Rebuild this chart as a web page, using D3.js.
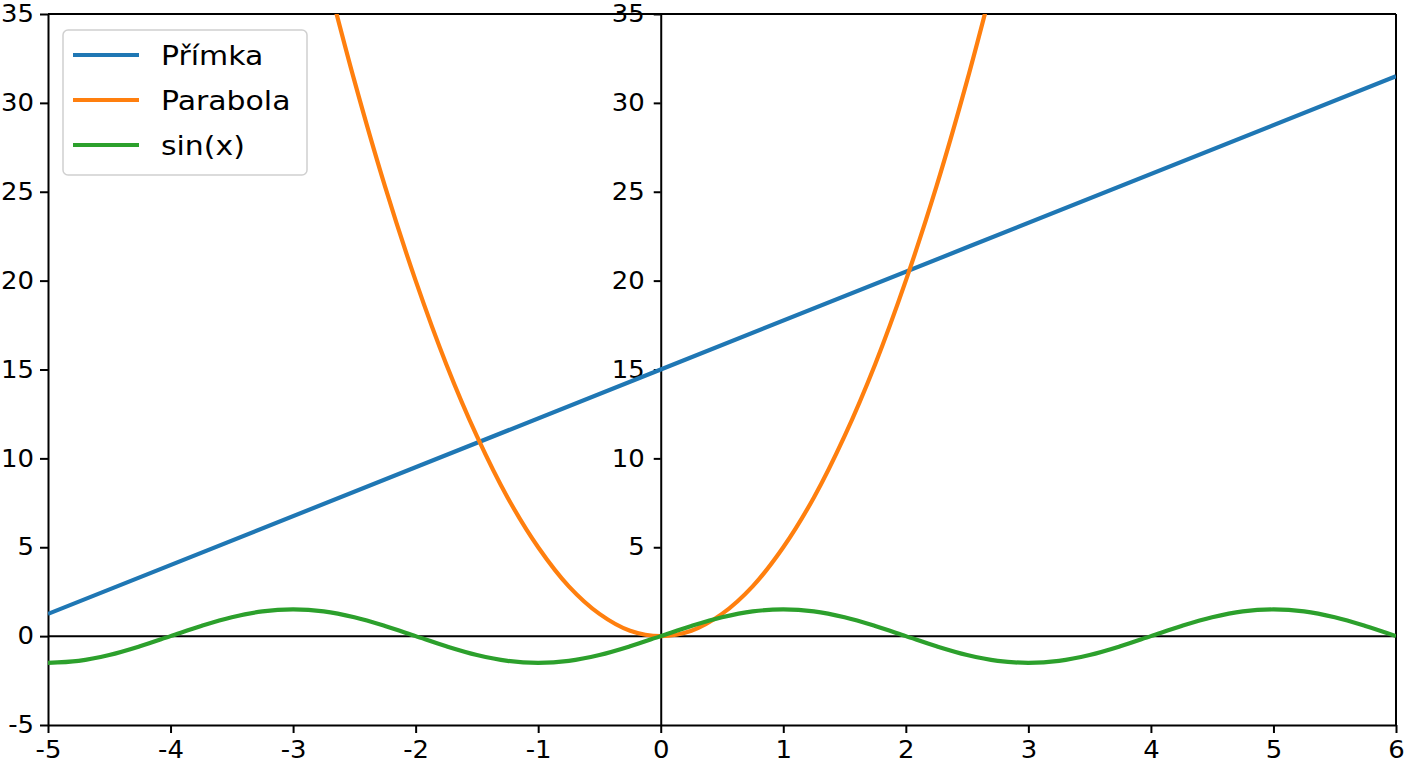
<!DOCTYPE html>
<html lang="cs">
<head>
    <meta charset="UTF-8">
    <title>Přímka, parabola, sin(x)</title>
    <script src="https://d3js.org/d3.v7.min.js"></script>
    <style>
        body{
            margin: 0;
            background: white;
        }
        svg{
            display: block;
            font-family: "DejaVu Sans", sans-serif;
        }
        .axis path, .axis line{
            stroke: black;
            stroke-width: 2;
        }
    </style>
</head>
<body>
<svg></svg>
<script>
    const width = 1408;
    const height = 768;

    // data
    const xTicks = [-5, -4, -3, -2, -1, 0, 1, 2, 3, 4, 5, 6];
    const yTicks = [-5, 0, 5, 10, 15, 20, 25, 30, 35];
    const yTicksMid = [5, 10, 15, 20, 25, 30, 35];

    const primkaX = [-5, 0, 6];
    const primkaY = [1.25, 15, 31.5];

    const parabolaX = [-2.75, -2.5, -2.25, -2, -1.75, -1.5, -1.25, -1, -0.75, -0.5, -0.25, 0,
        0.25, 0.5, 0.75, 1, 1.25, 1.5, 1.75, 2, 2.25, 2.5, 2.75];
    const parabolaY = [37.8, 31.25, 25.3, 20, 15.3, 11.25, 7.8, 5, 2.8, 1.25, 0.3, 0,
        0.3, 1.25, 2.8, 5, 7.8, 11.25, 15.3, 20, 25.3, 31.25, 37.8];

    const sinX = [-5, -4.75, -4.5, -4.25, -4, -3.75, -3.5, -3.25, -3, -2.75, -2.5, -2.25,
        -2, -1.75, -1.5, -1.25, -1, -0.75, -0.5, -0.25, 0, 0.25, 0.5, 0.75,
        1, 1.25, 1.5, 1.75, 2, 2.25, 2.5, 2.75, 3, 3.25, 3.5, 3.75,
        4, 4.25, 4.5, 4.75, 5, 5.25, 5.5, 5.75, 6];
    const sinY = [-1.5, -1.39, -1.06, -0.57, 0, 0.57, 1.06, 1.39, 1.5, 1.39, 1.06, 0.57,
        0, -0.57, -1.06, -1.39, -1.5, -1.39, -1.06, -0.57, 0, 0.57, 1.06, 1.39,
        1.5, 1.39, 1.06, 0.57, 0, -0.57, -1.06, -1.39, -1.5, -1.39, -1.06, -0.57,
        0, 0.57, 1.06, 1.39, 1.5, 1.39, 1.06, 0.57, 0];

    const seriesNames = ['Přímka', 'Parabola', 'sin(x)'];
    const colors = ['#1f77b4', '#ff7f0e', '#2ca02c'];

    const plotLeft = 48, plotRight = 1396, plotTop = 14, plotBottom = 725;
    const tickStretch = 1.08;   // tick labels are a bit wider than tall
    const legendStretch = 1.15; // legend text even more so

    const svg = d3.select('svg')
        .attr('width', width)
        .attr('height', height);

    const x = d3.scaleLinear().domain([-5, 6]).range([plotLeft, plotRight]);
    const y = d3.scaleLinear().domain([-5, 35]).range([plotBottom, plotTop]);

    // plain hyphen for negatives, like the original
    const fmt = d => String(d);

    svg.append('clipPath').attr('id', 'plotClip')
        .append('rect')
        .attr('x', plotLeft).attr('y', plotTop)
        .attr('width', plotRight - plotLeft).attr('height', plotBottom - plotTop);

    /* stretches tick labels sideways around their anchor */
    function stretchText(g, fontSize){
        g.selectAll('text')
            .attr('font-size', fontSize)
            .attr('fill', 'black')
            .attr('font-family', '"DejaVu Sans", sans-serif')
            .each(function(){
                const t = d3.select(this);
                const tx = +t.attr('x') || 0;
                t.attr('x', tx / tickStretch).attr('transform', `scale(${tickStretch},1)`);
            });
    }

    // left spine
    const gLeft = svg.append('g').attr('class', 'axis')
        .attr('transform', `translate(${plotLeft},0)`)
        .call(d3.axisLeft(y).tickValues(yTicks).tickFormat(fmt).tickSize(8).tickPadding(6).tickSizeOuter(0));
    stretchText(gLeft, 24);

    // bottom spine
    const gBottom = svg.append('g').attr('class', 'axis')
        .attr('transform', `translate(0,${plotBottom})`)
        .call(d3.axisBottom(x).tickValues(xTicks).tickFormat(fmt).tickSize(8).tickPadding(8).tickSizeOuter(0));
    stretchText(gBottom, 24);

    // top and right frame
    svg.append('line').attr('x1', plotLeft).attr('x2', plotRight).attr('y1', plotTop).attr('y2', plotTop)
        .attr('stroke', 'black').attr('stroke-width', 2);
    svg.append('line').attr('x1', plotRight).attr('x2', plotRight).attr('y1', plotTop).attr('y2', plotBottom)
        .attr('stroke', 'black').attr('stroke-width', 2);

    // zero lines
    svg.append('line').attr('x1', plotLeft).attr('x2', plotRight).attr('y1', y(0)).attr('y2', y(0))
        .attr('stroke', 'black').attr('stroke-width', 2);

    const gMid = svg.append('g').attr('class', 'axis')
        .attr('transform', `translate(${x(0)},0)`)
        .call(d3.axisLeft(y).tickValues(yTicksMid).tickFormat(fmt).tickSize(7).tickPadding(9).tickSizeOuter(0));
    stretchText(gMid, 24);

    // series
    const series = [
        {x: primkaX, y: primkaY},
        {x: parabolaX, y: parabolaY},
        {x: sinX, y: sinY}
    ];

    const lineGen = d3.line()
        .x(d => x(d[0]))
        .y(d => y(d[1]))
        .curve(d3.curveCatmullRom.alpha(0.5));

    const plot = svg.append('g').attr('clip-path', 'url(#plotClip)');
    series.forEach((s, i) => {
        plot.append('path')
            .datum(d3.zip(s.x, s.y))
            .attr('d', lineGen)
            .attr('fill', 'none')
            .attr('stroke', colors[i])
            .attr('stroke-width', 4.2)
            .attr('stroke-linejoin', 'round');
    });

    // legend
    const legend = svg.append('g');
    legend.append('rect')
        .attr('x', 63).attr('y', 30)
        .attr('width', 244).attr('height', 145)
        .attr('rx', 5)
        .attr('fill', 'white').attr('fill-opacity', 0.8)
        .attr('stroke', '#d0d0d0').attr('stroke-width', 1.5);

    seriesNames.forEach((name, i) => {
        const ly = 55 + i * 45;
        legend.append('line')
            .attr('x1', 73).attr('x2', 139)
            .attr('y1', ly).attr('y2', ly)
            .attr('stroke', colors[i]).attr('stroke-width', 4.2);
        legend.append('text')
            .attr('x', 161 / legendStretch).attr('y', ly + 10)
            .attr('transform', `scale(${legendStretch},1)`)
            .attr('font-size', 26)
            .text(name);
    });
</script>
</body>
</html>
